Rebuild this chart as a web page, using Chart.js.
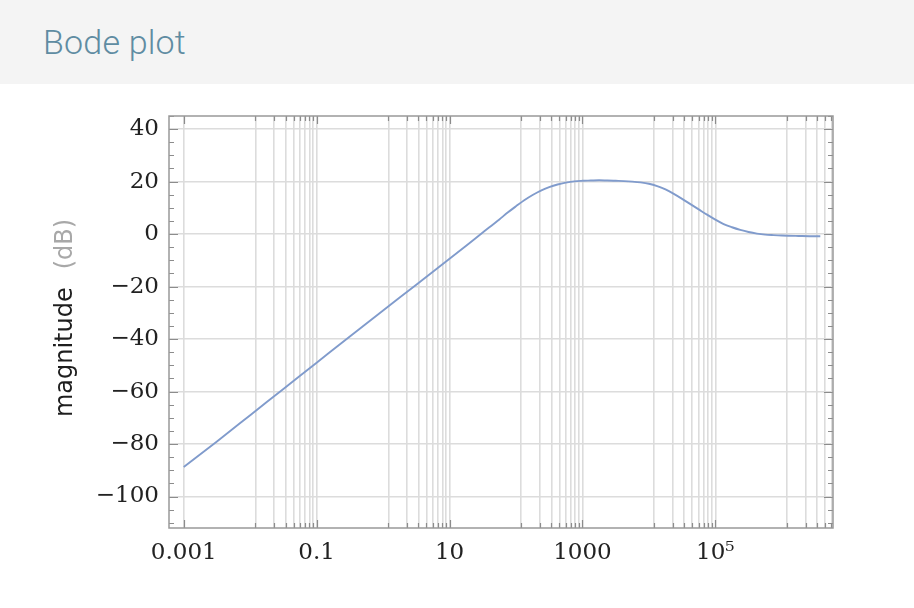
<!DOCTYPE html>
<html>
<head>
<meta charset="utf-8">
<script src="https://cdn.jsdelivr.net/npm/chart.js@4.4.1/dist/chart.umd.min.js"></script>
<style>
    html, body { margin: 0; padding: 0; background: #ffffff; }
    body { width: 914px; height: 608px; position: relative; overflow: hidden; }
    .header {
        position: absolute; left: 0; top: 0; width: 914px; height: 84px;
        background: #f4f4f4;
    }
    .header h1 {
        margin: 0; position: absolute; left: 43px; top: 22px;
        font-family: Roboto, sans-serif; font-weight: 300; font-size: 34px;
        color: #5f8ca2; letter-spacing: 0.2px;
    }
    .plot { position: absolute; left: 0; top: 84px; width: 914px; height: 524px; }
</style>
</head>
<body>
<div class="header"><h1>Bode plot</h1></div>
<div class="plot"><canvas id="bode"></canvas></div>
<script>
// frequency (rad/s) and magnitude
const freqs = [0.001, 0.00316, 0.01, 0.0316, 0.1, 0.316, 1, 3.16, 10, 17.8, 31.6, 56.2, 75,
    100, 133, 178, 237, 316, 422, 562, 750, 1000, 1334, 1778, 2371, 3162, 4217, 5623, 7499,
    10000, 13335, 17783, 23714, 31623, 42170, 56234, 74989,
    100000, 133352, 177828, 237137, 316228, 421697, 562341, 749894,
    1000000, 1778279, 3162278, 3800000];
const magnitudeDb = [-88.8, -79.0, -69.0, -59.0, -49.0, -39.0, -29.1, -19.3, -9.4, -4.4, 0.6, 5.6, 8.2,
    10.6, 12.9, 14.9, 16.6, 17.9, 18.9, 19.6, 20.1, 20.3, 20.4, 20.5, 20.4, 20.3, 20.2, 20.0, 19.7,
    19.2, 18.3, 17.0, 15.3, 13.4, 11.4, 9.4, 7.4,
    5.5, 3.8, 2.6, 1.6, 0.8, 0.2, -0.2, -0.4,
    -0.55, -0.7, -0.8, -0.8];

// labelled x ticks; grid lines split each gap into 9 equal linear steps
const xMajor = [0.001, 0.1, 10, 1000, 1e5, 1e7];
const xLabels = ["0.001", "0.1", "10", "1000", "10\u2075", ""];
const yMajor = [-100, -80, -60, -40, -20, 0, 20, 40];
const yMinorStep = 5;

const xMin = 0.00063, xMax = 5.9e6;
const yMin = -112, yMax = 45;

const xGrid = [];
for (let i = 0; i < xMajor.length - 1; i++) {
    const a = xMajor[i], b = xMajor[i + 1];
    for (let k = 0; k < 9; k++) {
        const v = a + (b - a) * k / 9;
        if (v <= xMax) xGrid.push(v);
    }
}

const serif = "'DejaVu Serif', 'Liberation Serif', serif";

function fmtY(v) {
    return v < 0 ? "\u2212" + Math.abs(v) : String(v);
}

// frame, inward ticks and two-colour axis title
const framePlugin = {
    id: "frame",
    afterDraw(chart) {
        const ctx = chart.ctx;
        const a = chart.chartArea;
        const xs = chart.scales.x, ys = chart.scales.y;
        ctx.save();
        ctx.strokeStyle = "#8c8c8c";
        ctx.lineWidth = 1.2;
        ctx.beginPath();
        xGrid.forEach(v => {
            const px = Math.round(xs.getPixelForValue(v)) + 0.5;
            const len = xMajor.includes(v) ? 8 : 5;
            ctx.moveTo(px, a.bottom); ctx.lineTo(px, a.bottom - len);
            ctx.moveTo(px, a.top); ctx.lineTo(px, a.top + len);
        });
        for (let v = -110; v <= yMax; v += yMinorStep) {
            const py = Math.round(ys.getPixelForValue(v)) + 0.5;
            const len = yMajor.includes(v) ? 9 : 5;
            ctx.moveTo(a.left, py); ctx.lineTo(a.left + len, py);
            ctx.moveTo(a.right, py); ctx.lineTo(a.right - len, py);
        }
        ctx.stroke();

        ctx.strokeStyle = "#999999";
        ctx.lineWidth = 1.5;
        ctx.strokeRect(a.left, a.top, a.right - a.left, a.bottom - a.top);

        // y title
        ctx.translate(66, (a.top + a.bottom) / 2 - 4);
        ctx.rotate(-Math.PI / 2);
        ctx.font = "24px 'DejaVu Sans', sans-serif";
        ctx.textBaseline = "middle";
        const t1 = "magnitude", t2 = "(dB)", gap = 18;
        const w1 = ctx.measureText(t1).width, w2 = ctx.measureText(t2).width;
        const x0 = -(w1 + gap + w2) / 2;
        ctx.fillStyle = "#1e1e1e";
        ctx.fillText(t1, x0, 0);
        ctx.fillStyle = "#a8a8a8";
        ctx.fillText(t2, x0 + w1 + gap, 0);
        ctx.restore();
    }
};

new Chart(document.getElementById("bode"), {
    type: "line",
    data: {
        datasets: [{
            data: freqs.map((f, i) => ({ x: f, y: magnitudeDb[i] })),
            borderColor: "rgb(128, 155, 204)",
            borderWidth: 1.9,
            pointRadius: 0,
            cubicInterpolationMode: "monotone",
            fill: false
        }]
    },
    options: {
        responsive: true,
        maintainAspectRatio: false,
        animation: false,
        layout: { padding: { left: 0, right: 81, top: 32, bottom: 0 } },
        plugins: { legend: { display: false }, tooltip: { enabled: false } },
        scales: {
            x: {
                type: "logarithmic",
                min: xMin,
                max: xMax,
                afterBuildTicks: (scale) => {
                    scale.ticks = xGrid.map(v => ({ value: v }));
                },
                afterFit: (scale) => { scale.height = 80; },
                grid: { color: "#dcdcdc", lineWidth: 1.6, drawTicks: false },
                border: { display: false },
                ticks: {
                    autoSkip: false,
                    maxRotation: 0,
                    padding: 11,
                    color: "#222222",
                    font: { family: serif, size: 23 },
                    callback: (value) => {
                        const i = xMajor.indexOf(value);
                        return i >= 0 ? xLabels[i] : "";
                    }
                }
            },
            y: {
                min: yMin,
                max: yMax,
                afterBuildTicks: (scale) => {
                    scale.ticks = yMajor.map(v => ({ value: v }));
                },
                afterFit: (scale) => { scale.width = 169; },
                grid: { color: "#dcdcdc", lineWidth: 1.6, drawTicks: false },
                border: { display: false },
                ticks: {
                    padding: 10,
                    color: "#222222",
                    font: { family: serif, size: 23 },
                    callback: (value) => fmtY(value)
                }
            }
        }
    },
    plugins: [framePlugin]
});
</script>
</body>
</html>
